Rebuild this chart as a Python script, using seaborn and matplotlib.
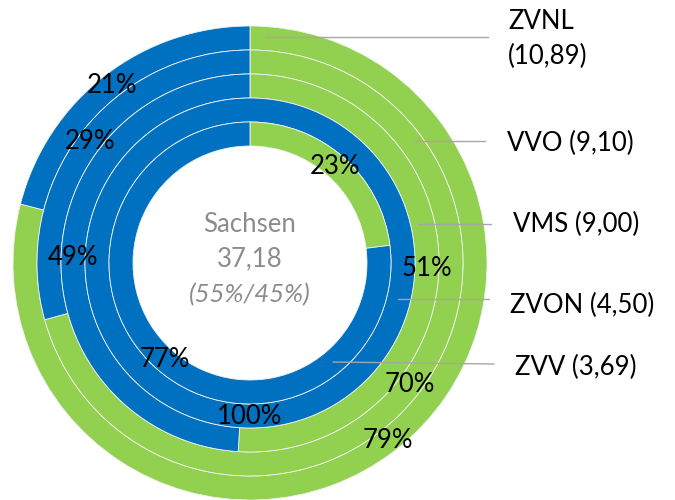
import numpy as np
import matplotlib.pyplot as plt
import seaborn as sns

sns.set_theme(style="white")
plt.rcParams['font.family'] = ['Lato', 'DejaVu Sans']

# Rings from outside to inside
regions = ["ZVNL", "VVO", "VMS", "ZVON", "ZVV"]
totals = [10.89, 9.10, 9.00, 4.50, 3.69]
share_green = [79, 70, 51, 0, 23]
share_blue = [21, 29, 49, 100, 77]

GREEN = "#92D050"
BLUE = "#0070C0"
GRAY = "#8C8C8C"

W, H = 675, 500
cx, cy = 250, H - 263
r_outer = 237
ring_w = 24
fs = 18.5

fig = plt.figure(figsize=(W / 100, H / 100), dpi=100)
ax = fig.add_axes([0, 0, 1, 1])

for i, (g, b) in enumerate(zip(share_green, share_blue)):
    r = r_outer - i * ring_w
    wedges, _ = ax.pie([g, b], colors=[GREEN, BLUE], radius=r, center=(cx, cy),
                       startangle=90, counterclock=False,
                       wedgeprops=dict(width=ring_w, edgecolor="#F2F2F2", linewidth=0.6))
    for w, v in zip(wedges, [g, b]):
        if v == 0:
            continue
        ang = np.deg2rad((w.theta1 + w.theta2) / 2)
        rm = r - ring_w / 2
        ax.text(cx + rm * np.cos(ang), cy + rm * np.sin(ang), f"{v}%",
                ha="center", va="center", fontsize=fs, color="black")

ax.set_xlim(0, W)
ax.set_ylim(0, H)
ax.axis("off")

# centre text
ax.text(cx, H - 224, "Sachsen", ha="center", va="center", fontsize=fs, color=GRAY)
ax.text(cx, H - 259, "37,18", ha="center", va="center", fontsize=fs, color=GRAY)
ax.text(cx, H - 295, "(55%/45%)", ha="center", va="center", fontsize=fs,
        color=GRAY, style="italic")

# leader lines and region labels
line_y = [37, 141, 224, 299, 362]
line_x0 = [265, 415, 418, 398, 333]
line_x1 = [488, 485, 491, 489, 494]
text_x = [508, 507, 513, 510, 515]
text_y = [39, 143, 224, 305, 367]
for i, name in enumerate(regions):
    ax.plot([line_x0[i], line_x1[i]], [H - line_y[i], H - line_y[i] - (2 if i == 4 else 0)],
            color="#A6A6A6", lw=1)
    val = f"{totals[i]:.2f}".replace(".", ",")
    label = f"{name}\n({val})" if i == 0 else f"{name} ({val})"
    ax.text(text_x[i], H - text_y[i], label, ha="left", va="center",
            fontsize=fs, color="black", linespacing=1.45)

fig.savefig("out.png", dpi=100)
